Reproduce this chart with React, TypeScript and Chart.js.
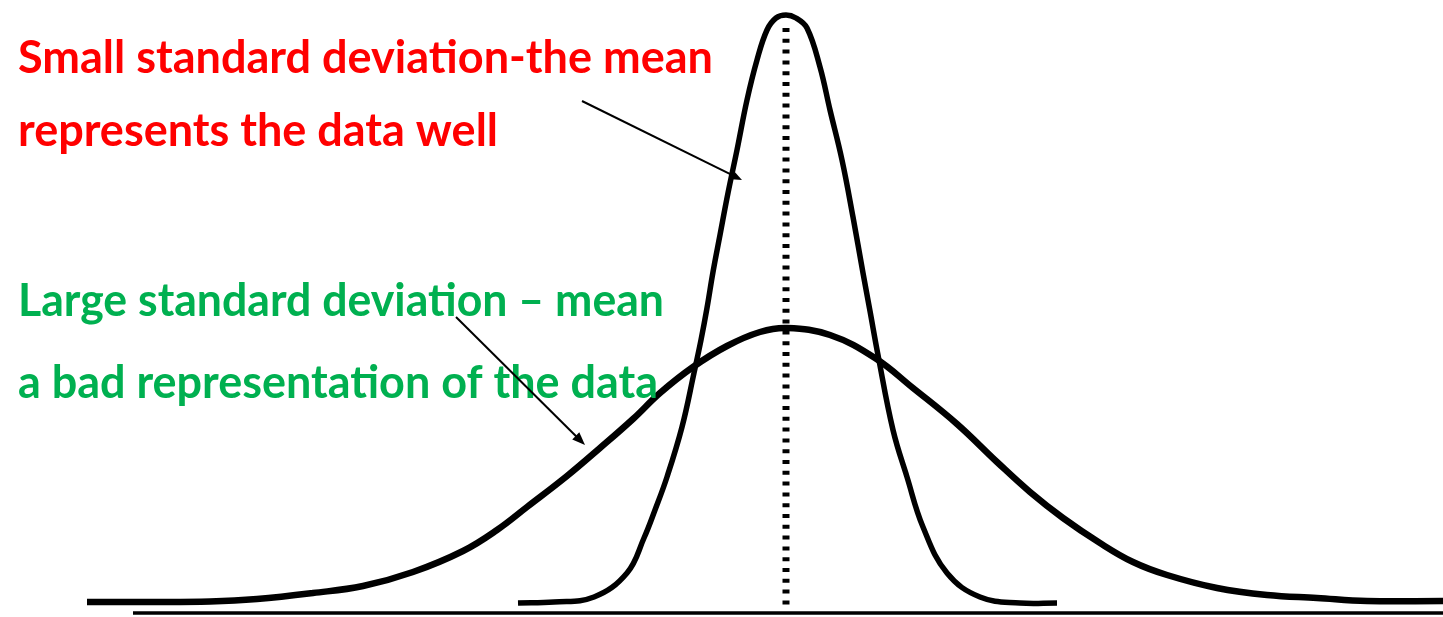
import React, { useEffect, useRef } from "react";
import { Chart, registerables } from "chart.js";

Chart.register(...registerables);

// Wide curve (large standard deviation)
const wideX = [-69.9, -63.6, -57.6, -52.9, -47.3, -42.3, -37.3, -32.3, -28.9, -25.9, -21.9, -18.6, -15.3, -12.6, -9.3, -5.9, -2.6, 0.1, 4.4, 8.9, 12.7, 17.1, 21.1, 24.4, 27.7, 31.4, 34.7, 38.1, 43.1, 48.1, 53.1, 58.1, 65.7];
const wideY = [1.1, 1.1, 1.15, 1.4, 2.0, 2.7, 4.1, 6.2, 8.3, 10.6, 13.7, 16.5, 19.4, 22.0, 24.6, 26.7, 28.1, 28.5, 27.8, 25.5, 22.5, 18.9, 15.1, 12.1, 9.5, 7.0, 5.1, 3.8, 2.5, 1.8, 1.5, 1.2, 1.2];

// Narrow curve (small standard deviation)
const narrowX = [-26.8, -23.2, -19.2, -15.9, -14.2, -13.1, -11.9, -10.4, -9.2, -8.5, -7.9, -7.3, -6.6, -5.8, -4.9, -3.9, -2.9, -1.9, -1.0, 0, 1.0, 2.1, 3.4, 4.4, 5.6, 6.7, 7.7, 8.4, 9.2, 10.7, 12.1, 13.7, 16.1, 19.4, 23.4, 27.1];
const narrowY = [1.0, 1.1, 1.6, 4.0, 7.5, 10.3, 13.6, 18.6, 24.0, 27.3, 30.5, 34.1, 37.8, 42.0, 46.3, 51.3, 55.3, 58.3, 59.5, 59.8, 59.5, 58.5, 54.6, 50.3, 45.3, 39.6, 34.0, 30.2, 25.8, 18.3, 13.6, 8.6, 4.0, 1.6, 1.0, 1.0];

// Mean (dotted vertical) and horizontal axis
const meanX = [0, 0];
const meanY = [58.5, 0.4];
const axisX = [-65.3, 65.7];
const axisY = [0, 0];

// Text labels
const redLines = ["Small standard deviation-the mean", "represents the data well"];
const greenLines = ["Large standard deviation \u2013 mean", "a bad representation of the data"];

const toPts = (xs: number[], ys: number[]) => xs.map((x, i) => ({ x, y: ys[i] }));

const notesPlugin = {
  id: "notes",
  afterDatasetsDraw(chart: any) {
    const { ctx, scales } = chart;
    const sx = scales.x;
    const sy = scales.y;
    ctx.save();
    const texts = [
      { t: redLines[0], x: -76.8, y: 54.0, w: 695, c: "#FF0000" },
      { t: redLines[1], x: -76.8, y: 46.7, w: 480, c: "#FF0000" },
      { t: greenLines[0], x: -76.8, y: 29.7, w: 646, c: "#00B050" },
      { t: greenLines[1], x: -76.8, y: 21.5, w: 640, c: "#00B050" },
    ];
    ctx.textBaseline = "alphabetic";
    ctx.textAlign = "left";
    for (const tx of texts) {
      ctx.font = "bold 45px Lato";
      ctx.fillStyle = tx.c;
      const px = sx.getPixelForValue(tx.x);
      const py = sy.getPixelForValue(tx.y);
      const mw = ctx.measureText(tx.t).width;
      ctx.save();
      ctx.translate(px, py);
      ctx.scale(tx.w / mw, 1);
      ctx.fillText(tx.t, 0, 0);
      ctx.restore();
    }
    const arrows = [
      { x1: -20.4, y1: 51.2, x2: -4.4, y2: 43.3, hl: 10, hw: 4 },
      { x1: -33.0, y1: 29.6, x2: -20.1, y2: 16.8, hl: 13, hw: 5 },
    ];
    ctx.strokeStyle = "#000";
    ctx.fillStyle = "#000";
    ctx.lineWidth = 2;
    for (const a of arrows) {
      const ax = sx.getPixelForValue(a.x1);
      const ay = sy.getPixelForValue(a.y1);
      const bx = sx.getPixelForValue(a.x2);
      const by = sy.getPixelForValue(a.y2);
      const ang = Math.atan2(by - ay, bx - ax);
      const ex = bx - Math.cos(ang) * a.hl * 0.8;
      const ey = by - Math.sin(ang) * a.hl * 0.8;
      ctx.beginPath();
      ctx.moveTo(ax, ay);
      ctx.lineTo(ex, ey);
      ctx.stroke();
      const bxh = bx - Math.cos(ang) * a.hl;
      const byh = by - Math.sin(ang) * a.hl;
      ctx.beginPath();
      ctx.moveTo(bx, by);
      ctx.lineTo(bxh + Math.sin(ang) * a.hw, byh - Math.cos(ang) * a.hw);
      ctx.lineTo(bxh - Math.sin(ang) * a.hw, byh + Math.cos(ang) * a.hw);
      ctx.closePath();
      ctx.fill();
    }
    ctx.restore();
  },
};

export default function App() {
  const ref = useRef<HTMLCanvasElement | null>(null);
  useEffect(() => {
    document.body.style.margin = "0";
    if (!ref.current) return;
    const chart = new Chart(ref.current, {
      type: "scatter",
      data: {
        datasets: [
          {
            data: toPts(axisX, axisY),
            showLine: true,
            borderColor: "#000",
            borderWidth: 3.5,
            pointRadius: 0,
            borderCapStyle: "butt",
          },
          {
            data: toPts(meanX, meanY),
            showLine: true,
            borderColor: "#000",
            borderWidth: 7,
            borderDash: [4, 6.8],
            pointRadius: 0,
            borderCapStyle: "butt",
          },
          {
            data: toPts(narrowX, narrowY),
            showLine: true,
            borderColor: "#000",
            borderWidth: 5.5,
            pointRadius: 0,
            tension: 0.4,
            borderCapStyle: "butt",
            borderJoinStyle: "round",
          },
          {
            data: toPts(wideX, wideY),
            showLine: true,
            borderColor: "#000",
            borderWidth: 6.5,
            pointRadius: 0,
            tension: 0.4,
            borderCapStyle: "butt",
            borderJoinStyle: "round",
          },
        ] as any,
      },
      options: {
        animation: false,
        responsive: false,
        devicePixelRatio: 1,
        layout: { padding: 0 },
        plugins: { legend: { display: false }, tooltip: { enabled: false } },
        scales: {
          x: { type: "linear", min: -78.6, max: 65.7, display: false },
          y: { type: "linear", min: -0.4, max: 61.3, display: false },
        },
      } as any,
      plugins: [notesPlugin],
    });
    return () => chart.destroy();
  }, []);
  return (
    <div style={{ width: 1443, height: 617, background: "#fff" }}>
      <canvas ref={ref} width={1443} height={617} />
    </div>
  );
}
